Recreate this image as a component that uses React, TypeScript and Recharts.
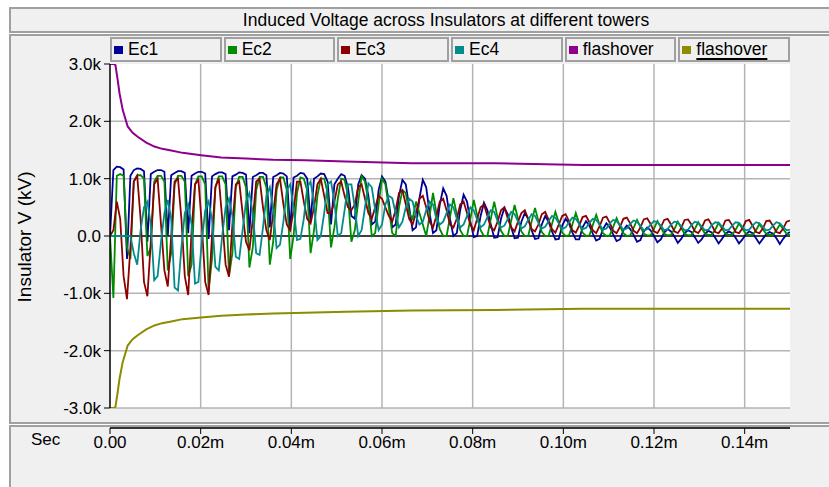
import { LineChart, Line, XAxis, YAxis, CartesianGrid, ReferenceLine } from 'recharts';

const title = 'Induced Voltage across Insulators at different towers';
const yTitle = 'Insulator V (kV)';
const xTitle = 'Sec';

// samples, one every 0.00075 (6 per oscillation)
const SAMPLE_STEP = 0.00075;

const ec1 = [
  0, 1150, 1210, 1200, 1160, -400,
  1050, 1150, 1180, 1170, 1130, -100,
  1080, 1120, 1150, 1150, 1120, 0,
  1060, 1100, 1130, 1130, 1100, 50,
  1050, 1090, 1120, 1120, 1090, -50,
  1040, 1080, 1110, 1110, 1080, 100,
  1040, 1070, 1110, 1100, 1070, 50,
  1030, 1060, 1100, 1100, 1060, 150,
  1030, 1060, 1100, 1090, 1040, 100,
  1020, 1050, 1100, 1090, 1000, 250,
  1000, 1040, 1090, 1080, 950, 200,
  900, 1000, 1080, 1050, 850, 350,
  300, 900, 1060, 1000, 700, 200,
  250, 800, 1040, 950, 600, 150,
  200, 700, 980, 900, 500, 100,
  150, 650, 980, 850, 400, 50,
  100, 550, 830, 700, 300, 0,
  50, 450, 720, 600, 250, -20,
  0, 350, 580, 450, 200, -30,
  -20, 300, 490, 380, 150, -40,
  -30, 250, 400, 300, 100, -50,
  -40, 200, 350, 250, 80, -60,
  -50, 180, 300, 220, 60, -60,
  -60, 150, 260, 180, 40, -80,
  -50, 120, 220, 150, 30, -90,
  -60, 100, 180, 120, 20, -100,
  -70, 80, 150, 100, 0, -110,
  -60, 60, 120, 80, -10, -120,
  -50, 50, 100, 70, -20, -120,
  -60, 40, 90, 60, -30, -130,
  -50, 40, 80, 50, -30, -130,
  -60, 30, 80, 50, -40, -130,
  -50, 30, 70, 40, -40, -140,
  -50, 30, 70,
];

const ec2 = [
  0, -1080, 1050, 1080, 1050, -200,
  -400, 950, 1060, 1060, 1000, -350,
  -200, 950, 1050, 1050, 950, -600,
  -300, 900, 1050, 1050, 950, -700,
  -500, 900, 1040, 1040, 900, -950,
  -400, 850, 1040, 1040, 900, -700,
  -300, 850, 1030, 1030, 850, -550,
  -200, 800, 1030, 1030, 850, -500,
  -100, 800, 1020, 1020, 800, -400,
  0, 750, 1020, 1000, 800, -300,
  100, 700, 1000, 1000, 750, -200,
  150, 650, 1000, 980, 700, -100,
  100, 600, 1040, 950, 600, 0,
  50, 550, 1000, 900, 500, 50,
  0, 500, 800, 750, 400, 300,
  600, 400, 200, 0, 350, 750,
  400, 120, 0, 0, 330, 660,
  380, 100, 0, 0, 300, 630,
  360, 100, 0, 0, 300, 600,
  320, 90, 0, 0, 270, 540,
  300, 80, 0, 0, 250, 490,
  260, 70, 0, 0, 210, 420,
  240, 60, 0, 10, 200, 400,
  220, 60, 0, 10, 190, 370,
  190, 50, 0, 10, 160, 310,
  170, 50, 0, 10, 140, 280,
  160, 40, 10, 10, 130, 260,
  150, 40, 10, 20, 120, 250,
  140, 40, 10, 20, 120, 240,
  140, 40, 20, 20, 110, 230,
  130, 40, 20, 20, 110, 220,
  130, 40, 20, 20, 100, 210,
  120, 40, 20, 20, 100, 200,
  120, 40, 20,
];

const ec3 = [
  0, 100, 600, 300, -700, -1100,
  -200, 950, 1050, 300, -800, -1050,
  -100, 900, 1000, 200, -600, -880,
  0, 950, 1000, 300, -700, -1030,
  100, 900, 980, 200, -800, -1030,
  0, 850, 1000, 300, -500, -710,
  200, 900, 950, 400, -100, -250,
  300, 950, 1000, 500, 100, -70,
  400, 900, 1000, 550, 200, 100,
  450, 950, 950, 600, 300, 220,
  500, 900, 1000, 700, 400, 400,
  600, 900, 950, 700, 500, 450,
  550, 850, 900, 650, 400, 300,
  500, 700, 650, 500, 350, 250,
  450, 750, 800, 550, 300, 200,
  400, 650, 700, 500, 250, 150,
  350, 600, 650, 450, 200, 150,
  300, 550, 600, 400, 200, 100,
  300, 500, 550, 350, 150, 100,
  250, 450, 500, 300, 150, 80,
  250, 400, 450, 300, 120, 80,
  200, 380, 420, 280, 120, 60,
  200, 350, 380, 260, 100, 60,
  180, 330, 350, 240, 100, 50,
  170, 320, 340, 230, 90, 50,
  160, 300, 320, 220, 90, 50,
  150, 290, 310, 210, 80, 50,
  150, 280, 300, 200, 80, 50,
  140, 280, 290, 200, 80, 50,
  140, 270, 290, 190, 70, 50,
  130, 270, 280, 190, 70, 50,
  130, 260, 280, 180, 70, 50,
  130, 260, 270, 180, 70, 50,
  130, 250, 270,
];

const ec4 = [
  0, 0, 0, 0, 0, 0,
  0, -300, -500, 100, 500, 600,
  200, -770, -700, -100, 400, 630,
  300, -900, -950, -200, 400, 550,
  200, -830, -800, -100, 450, 600,
  300, -540, -600, 0, 500, 650,
  350, -360, -400, 100, 600, 750,
  400, -300, -330, 150, 700, 850,
  450, -210, -150, 250, 800, 900,
  500, -70, -50, 300, 850, 950,
  550, -70, 0, 400, 900, 950,
  600, 0, 50, 450, 900, 900,
  500, 0, 100, 500, 920, 850,
  450, 100, 200, 550, 700, 660,
  400, 150, 250, 500, 650, 600,
  350, 200, 250, 450, 600, 550,
  300, 200, 250, 400, 550, 500,
  300, 150, 200, 350, 500, 450,
  280, 150, 200, 330, 450, 420,
  260, 150, 180, 300, 420, 380,
  250, 130, 170, 280, 380, 350,
  230, 130, 160, 260, 350, 320,
  220, 120, 150, 240, 320, 300,
  210, 120, 140, 230, 300, 280,
  200, 110, 130, 220, 280, 260,
  190, 110, 130, 210, 270, 250,
  180, 100, 120, 200, 260, 240,
  180, 100, 120, 200, 250, 240,
  170, 100, 110, 190, 250, 230,
  170, 100, 110, 190, 240, 230,
  170, 100, 110, 180, 240, 230,
  160, 100, 110, 180, 240, 220,
  160, 100, 110, 180, 240, 220,
  160, 100, 110,
];

// flashover limits
const flashTimes = [
  0, 0.0008, 0.0012, 0.0017, 0.0021, 0.0028, 0.0039, 0.005, 0.0061, 0.008,
  0.0098, 0.0115, 0.0135, 0.016, 0.0201, 0.0245, 0.03, 0.036, 0.043, 0.052,
  0.0666, 0.085, 0.1044, 0.15,
];
const flashUpper = [
  3000, 3000, 2980, 2720, 2490, 2200, 1910, 1800, 1730, 1630,
  1560, 1520, 1490, 1450, 1410, 1370, 1350, 1330, 1320, 1300,
  1270, 1270, 1240, 1240,
];
const flashLower = [
  -3000, -3000, -2980, -2720, -2490, -2200, -1910, -1800, -1730, -1630,
  -1560, -1520, -1490, -1450, -1420, -1390, -1370, -1350, -1340, -1320,
  -1300, -1290, -1270, -1270,
];

const yTicks = [-3000, -2000, -1000, 0, 1000, 2000, 3000];
const xTicks = [0, 0.02, 0.04, 0.06, 0.08, 0.1, 0.12, 0.14];

const legendItems = [
  { name: 'Ec1', color: '#000096' },
  { name: 'Ec2', color: '#008c00' },
  { name: 'Ec3', color: '#8c0000' },
  { name: 'Ec4', color: '#008c8c' },
  { name: 'flashover', color: '#8c008c' },
  { name: 'flashover', color: '#8c8c00' },
];

const oscData = ec1.map((v, i) => ({
  t: i * SAMPLE_STEP,
  ec1: v,
  ec2: ec2[i],
  ec3: ec3[i],
  ec4: ec4[i],
}));
const flashData = flashTimes.map((t, i) => ({ t, up: flashUpper[i], low: flashLower[i] }));

const fmtY = (v: number) => (v === 0 ? '0.0' : (v / 1000).toFixed(1) + 'k');
const fmtX = (v: number) => (v === 0 ? '0.00' : v.toFixed(2) + 'm');

const panelBorder = '2px solid #a0a0a0';

export default function App() {
  return (
    <div
      style={{
        position: 'absolute',
        left: 0,
        top: 0,
        width: 829,
        height: 487,
        overflow: 'hidden',
        background: '#fff',
        fontFamily: '"Liberation Sans", Arial, sans-serif',
        color: '#000',
      }}
    >
      {/* title panel */}
      <div
        style={{
          position: 'absolute', left: 9, top: 7, width: 840, height: 26,
          boxSizing: 'border-box', borderTop: panelBorder, borderLeft: panelBorder,
          borderBottom: panelBorder, background: '#f0f0f0',
          fontSize: 17.5, lineHeight: '22px',
        }}
      >
        <div style={{ position: 'absolute', left: 0, width: 870, textAlign: 'center' }}>{title}</div>
      </div>

      {/* plot panel */}
      <div
        style={{
          position: 'absolute', left: 9, top: 34, width: 840, height: 390,
          boxSizing: 'border-box', borderTop: panelBorder, borderLeft: panelBorder,
          borderBottom: panelBorder, background: '#f0f0f0',
        }}
      />

      {/* x axis panel */}
      <div
        style={{
          position: 'absolute', left: 9, top: 425, width: 840, height: 80,
          boxSizing: 'border-box', borderTop: panelBorder, borderLeft: panelBorder,
          background: '#f0f0f0',
        }}
      />

      <div style={{ position: 'absolute', left: 0, top: 0 }}>
        <LineChart width={829} height={430} data={oscData} margin={{ top: 64, right: 39, bottom: 22, left: 0 }}>
          <CartesianGrid
            fill="#fff"
            stroke="#b4b4b4"
            strokeWidth={1.5}
            horizontalValues={[-2000, -1000, 1000, 2000]}
            verticalValues={[0.02, 0.04, 0.06, 0.08, 0.1, 0.12, 0.14]}
          />
          <XAxis dataKey="t" type="number" domain={[0, 0.15]} ticks={xTicks} hide allowDataOverflow />
          <YAxis
            type="number"
            domain={[-3000, 3000]}
            ticks={yTicks}
            width={110}
            interval={0}
            tickFormatter={fmtY}
            tickSize={6}
            tickMargin={3}
            axisLine={{ stroke: '#000', strokeWidth: 1.5 }}
            tickLine={{ stroke: '#000' }}
            tick={{ fill: '#000', fontSize: 17 }}
            allowDataOverflow
          />
          <ReferenceLine y={-3000} stroke="#b4b4b4" strokeWidth={1.5} />
          <ReferenceLine y={0} stroke="#000" strokeWidth={1.5} />
          <Line dataKey="ec1" stroke={legendItems[0].color} strokeWidth={1.8} dot={false} isAnimationActive={false} />
          <Line dataKey="ec2" stroke={legendItems[1].color} strokeWidth={1.8} dot={false} isAnimationActive={false} />
          <Line dataKey="ec3" stroke={legendItems[2].color} strokeWidth={1.8} dot={false} isAnimationActive={false} />
          <Line dataKey="ec4" stroke={legendItems[3].color} strokeWidth={1.8} dot={false} isAnimationActive={false} />
          <Line data={flashData} dataKey="up" stroke={legendItems[4].color} strokeWidth={2} dot={false} isAnimationActive={false} />
          <Line data={flashData} dataKey="low" stroke={legendItems[5].color} strokeWidth={2} dot={false} isAnimationActive={false} />
        </LineChart>
      </div>

      {/* x axis */}
      <div style={{ position: 'absolute', left: 0, top: 424 }}>
        <LineChart width={829} height={63} data={[{ t: 0 }, { t: 0.15 }]} margin={{ top: 0, right: 39, bottom: 0, left: 110 }}>
          <XAxis
            dataKey="t"
            type="number"
            domain={[0, 0.15]}
            ticks={xTicks}
            interval={0}
            height={59}
            tickFormatter={fmtX}
            tickSize={6}
            axisLine={{ stroke: '#333', strokeWidth: 2 }}
            tickLine={{ stroke: '#000' }}
            tick={{ fill: '#000', fontSize: 17 }}
          />
          <YAxis hide domain={[0, 1]} />
        </LineChart>
      </div>

      {/* legend */}
      <div style={{ position: 'absolute', left: 110, top: 37, width: 680, height: 25, display: 'flex', gap: 2 }}>
        {legendItems.map((item, i) => (
          <div
            key={i}
            style={{
              flex: 1, boxSizing: 'border-box', border: panelBorder, background: '#f0f0f0',
              display: 'flex', alignItems: 'center', fontSize: 17.5, whiteSpace: 'nowrap',
            }}
          >
            <span style={{ width: 9, height: 8, background: item.color, margin: '0 5px 0 2px', flex: 'none' }} />
            <span
              style={
                i === legendItems.length - 1
                  ? { textDecoration: 'underline', textDecorationThickness: 2, textUnderlineOffset: 3 }
                  : undefined
              }
            >
              {item.name}
            </span>
          </div>
        ))}
      </div>

      {/* axis titles */}
      <div
        style={{
          position: 'absolute', left: 25, top: 237, fontSize: 19, whiteSpace: 'nowrap',
          transform: 'translate(-50%, -50%) rotate(-90deg)',
        }}
      >
        {yTitle}
      </div>
      <div style={{ position: 'absolute', left: 31, top: 430, fontSize: 17 }}>{xTitle}</div>
    </div>
  );
}
